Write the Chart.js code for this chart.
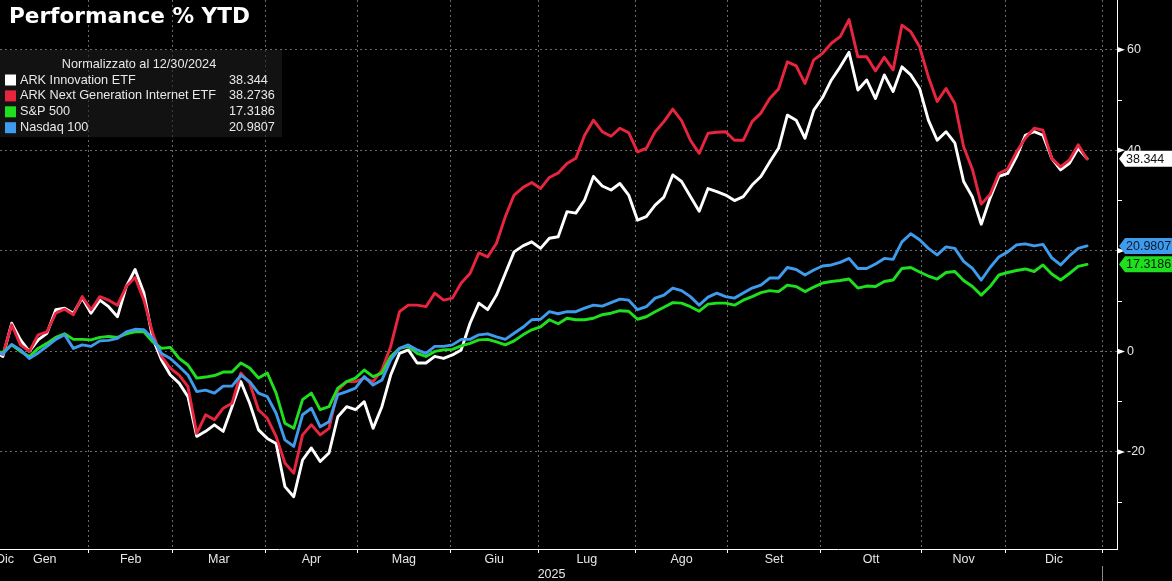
<!DOCTYPE html>
<html>
<head>
<meta charset="utf-8">
<script src="https://cdn.jsdelivr.net/npm/chart.js@4.4.0/dist/chart.umd.min.js"></script>
<style>
  html, body { margin: 0; padding: 0; background: #000; }
</style>
</head>
<body>
<canvas id="perfChart" width="1172" height="581"></canvas>
<script>
// % performance, normalized at 12/30/2024, one sample every 2 trading sessions
const arkk = [0, -1.0, 5.6, 2.3, 0.0, 2.3, 3.6, 8.3, 8.6, 7.6, 10.6, 7.6, 10.2, 8.9, 6.9, 12.9, 16.3, 11.6, 2.6, -1.7,
  -4.7, -6.3, -9.0, -16.9, -15.9, -14.6, -15.9, -11.0, -6.0, -10.3, -15.6, -17.3, -18.3, -26.9, -28.9, -21.6, -19.2, -21.9, -20.2, -13.0,
  -11.0, -11.6, -10.0, -15.3, -11.0, -4.7, -0.4, 0.3, -2.3, -2.3, -1.0, -1.4, -0.7, 0.3, 5.6, 9.6, 8.3, 11.2, 15.5, 19.8,
  21.0, 21.8, 20.5, 22.5, 22.8, 27.8, 27.5, 30.1, 34.8, 32.9, 32.1, 33.4, 31.1, 26.1, 26.8, 29.1, 30.7, 35.1, 33.8, 30.8,
  27.9, 32.4, 31.8, 31.1, 30.0, 30.8, 33.1, 34.8, 37.7, 40.4, 47.0, 46.0, 42.4, 48.0, 50.5, 54.0, 56.6, 59.5, 52.0, 54.0,
  50.3, 55.0, 51.7, 56.6, 55.0, 52.3, 46.0, 42.0, 43.7, 41.5, 33.8, 30.7, 25.3, 30.5, 34.8, 35.4, 38.7, 43.0, 43.7, 43.0,
  38.4, 36.1, 37.4, 40.4, 38.344];
const arkw = [0, -0.6, 5.3, 1.3, 0.0, 3.3, 3.9, 7.6, 8.4, 7.3, 10.9, 8.3, 10.9, 10.2, 9.2, 12.9, 14.7, 10.2, 3.6, -1.0,
  -3.3, -4.7, -7.0, -16.3, -12.6, -13.6, -11.3, -10.3, -4.3, -6.3, -11.6, -13.3, -16.9, -22.2, -24.2, -16.6, -14.6, -16.6, -15.3, -7.7,
  -6.0, -6.0, -5.3, -6.0, -3.7, 1.0, 7.9, 9.2, 9.2, 8.9, 11.6, 10.2, 10.6, 13.6, 15.5, 19.6, 18.8, 21.5, 26.8, 31.1,
  32.6, 33.6, 32.4, 34.6, 35.5, 37.4, 38.4, 43.0, 46.0, 43.7, 42.8, 44.4, 43.5, 39.7, 40.4, 43.7, 45.7, 48.2, 45.9, 42.0,
  39.4, 43.4, 43.6, 43.7, 42.0, 42.0, 45.7, 47.4, 50.3, 52.2, 57.6, 56.8, 53.3, 58.0, 59.3, 61.3, 62.6, 66.0, 58.6, 58.6,
  55.8, 58.5, 56.0, 64.9, 63.6, 60.6, 54.6, 49.7, 52.3, 49.3, 40.7, 36.2, 29.3, 31.2, 35.4, 36.3, 39.7, 42.4, 44.4, 44.0,
  38.4, 36.7, 38.1, 41.1, 38.2736];
const spx = [0, -0.2, 1.3, 0.0, -1.0, 0.6, 1.6, 2.8, 3.5, 2.4, 2.4, 2.3, 2.8, 3.0, 2.8, 3.5, 3.9, 3.9, 1.9, 0.6,
  0.8, -1.4, -2.7, -5.3, -5.1, -4.8, -4.1, -4.1, -2.3, -3.3, -5.3, -4.3, -8.3, -14.3, -15.3, -9.6, -8.3, -11.6, -11.0, -7.3,
  -6.0, -5.3, -3.7, -5.0, -4.3, -1.0, 0.6, 1.0, -0.4, -1.0, 0.0, 0.3, 0.4, 1.1, 1.6, 2.3, 2.4, 1.9, 1.3, 2.1,
  3.3, 4.3, 4.9, 6.3, 5.5, 6.6, 6.3, 6.3, 6.6, 7.3, 7.6, 8.1, 8.0, 6.4, 6.9, 7.9, 8.8, 9.7, 9.6, 8.9,
  8.0, 9.4, 9.6, 9.6, 9.2, 10.2, 10.9, 11.7, 12.1, 11.9, 13.2, 12.9, 11.9, 12.8, 13.6, 13.9, 14.1, 14.4, 12.6, 13.0,
  12.9, 13.9, 14.2, 16.5, 16.7, 15.8, 15.0, 14.4, 15.7, 15.9, 14.1, 12.9, 11.2, 12.9, 15.2, 15.7, 16.1, 16.4, 15.9, 17.2,
  15.4, 14.2, 15.5, 16.9, 17.3186];
const ndx = [0, -0.5, 1.4, 0.3, -1.4, -0.3, 1.0, 2.4, 3.3, 0.6, 1.3, 1.0, 2.1, 2.2, 2.6, 3.9, 4.4, 4.3, 2.6, -0.4,
  -1.4, -3.0, -4.7, -8.0, -7.7, -8.3, -6.9, -6.9, -4.7, -6.0, -8.3, -9.0, -12.3, -17.6, -18.9, -12.6, -11.3, -15.0, -14.0, -8.6,
  -8.0, -7.3, -5.0, -6.7, -5.7, -1.7, 0.6, 1.3, 0.3, -0.4, 1.0, 1.0, 1.3, 2.4, 2.4, 3.3, 3.5, 2.9, 2.4, 3.6,
  4.8, 6.3, 6.4, 7.9, 7.5, 7.9, 7.9, 8.6, 9.2, 9.0, 9.7, 10.4, 10.2, 8.3, 8.9, 10.6, 11.2, 12.6, 12.1, 10.9,
  9.2, 10.8, 11.6, 10.9, 10.6, 11.6, 12.6, 13.2, 14.6, 14.6, 16.7, 16.3, 15.2, 16.2, 17.0, 17.2, 17.7, 18.5, 16.5, 16.5,
  17.4, 18.5, 18.3, 21.8, 23.4, 22.2, 20.5, 19.2, 20.8, 20.5, 17.9, 16.5, 14.2, 16.7, 18.8, 19.8, 21.2, 21.4, 21.0, 21.3,
  18.6, 17.2, 19.0, 20.5, 20.9807];

// x = trading session index from 12/30/2024
const days = arkk.map((_, i) => i * 2);

const seriesNames = ['ARK Innovation ETF', 'ARK Next Generation Internet ETF', 'S&P 500', 'Nasdaq 100'];
const seriesColors = ['#ffffff', '#e8253f', '#1fe01f', '#3f9bec'];
const tagText = ['#111111', '#111111', '#0a1a0a', '#0a1830'];

// month boundaries / month label centres in trading sessions
const monthBreaks = [21.5, 40.5, 61.5, 82.5, 103.5, 123.5, 145.5, 166.5, 187.5, 210.5, 229.5, 251.5];
const monthLabels = ['Dic', 'Gen', 'Feb', 'Mar', 'Apr', 'Mag', 'Giu', 'Lug', 'Ago', 'Set', 'Ott', 'Nov', 'Dic'];
const monthMid = [2.5, 11.5, 31, 51, 72, 93, 113.5, 134.5, 156, 177, 199, 220, 240.5];
const yearLabel = '2025';
const yearMid = 126.5;
const yearBreak = 251.5;
const yTicks = [-30, -20, -10, 0, 10, 20, 30, 40, 50, 60];

const gridColor = 'rgba(255,255,255,0.42)';
const FONT = '"Liberation Sans", Arial, sans-serif';

const decor = {
    id: 'decor',
    afterDraw(chart) {
        const {ctx, chartArea: a, scales: {x, y}} = chart;
        ctx.save();

        // markers on the value axis
        ctx.fillStyle = '#ffffff';
        yTicks.filter(v => v % 20 === 0).forEach(v => {
            const py = y.getPixelForValue(v);
            ctx.beginPath();
            ctx.moveTo(a.right, py - 3);
            ctx.lineTo(a.right + 8, py);
            ctx.lineTo(a.right, py + 3);
            ctx.closePath();
            ctx.fill();
        });

        // month labels + year
        ctx.font = '12.5px ' + FONT;
        ctx.fillStyle = '#e6e6e6';
        ctx.textAlign = 'center';
        ctx.textBaseline = 'middle';
        monthLabels.forEach((m, i) => ctx.fillText(m, x.getPixelForValue(monthMid[i]), a.bottom + 11));
        ctx.fillText(yearLabel, x.getPixelForValue(yearMid), a.bottom + 26);
        ctx.strokeStyle = '#8a8a8a';
        ctx.lineWidth = 1;
        const yb = Math.round(x.getPixelForValue(yearBreak)) + 0.5;
        ctx.beginPath();
        ctx.moveTo(yb, a.bottom + 17);
        ctx.lineTo(yb, chart.height);
        ctx.stroke();

        // title
        ctx.textAlign = 'left';
        ctx.textBaseline = 'alphabetic';
        ctx.fillStyle = '#ffffff';
        ctx.font = 'bold 21.6px "DejaVu Sans", sans-serif';
        ctx.fillText('Performance % YTD', 9, 23);

        // legend box
        ctx.fillStyle = 'rgba(30,30,30,0.6)';
        ctx.fillRect(0, 50, 282, 87);
        ctx.font = '12.7px ' + FONT;
        ctx.fillStyle = '#e8e8e8';
        ctx.textBaseline = 'middle';
        ctx.textAlign = 'center';
        ctx.fillText('Normalizzato al 12/30/2024', 139, 64);
        ctx.textAlign = 'left';
        const lastVals = [arkk, arkw, spx, ndx].map(s => s[s.length - 1]);
        seriesNames.forEach((n, i) => {
            const ry = 80 + i * 15.9;
            ctx.fillStyle = seriesColors[i];
            ctx.fillRect(5, ry - 5.5, 11, 11);
            ctx.fillStyle = '#e8e8e8';
            ctx.fillText(n, 20, ry);
            ctx.fillText(String(lastVals[i]), 229, ry);
        });

        // last value tags (ARKW tag hidden under ARKK)
        ctx.font = '12.5px ' + FONT;
        [0, 3, 2].forEach(i => {
            const py = y.getPixelForValue(lastVals[i]);
            ctx.fillStyle = seriesColors[i];
            ctx.beginPath();
            ctx.moveTo(a.right + 2, py);
            ctx.lineTo(a.right + 8, py - 8);
            ctx.lineTo(chart.width, py - 8);
            ctx.lineTo(chart.width, py + 8);
            ctx.lineTo(a.right + 8, py + 8);
            ctx.closePath();
            ctx.fill();
            ctx.fillStyle = tagText[i];
            ctx.fillText(String(lastVals[i]), a.right + 9, py + 0.5);
        });
        ctx.restore();
    }
};

const seriesData = [arkk, arkw, spx, ndx];

new Chart(document.getElementById('perfChart').getContext('2d'), {
    type: 'line',
    data: {
        datasets: seriesData.map((vals, idx) => ({
            label: seriesNames[idx],
            data: vals.map((v, i) => ({x: days[i], y: v})),
            borderColor: seriesColors[idx],
            borderWidth: 2.9,
            borderJoinStyle: 'round',
            borderCapStyle: 'round',
            pointRadius: 0,
            tension: 0,
            fill: false,
            order: 4 - idx
        }))
    },
    options: {
        responsive: false,
        animation: false,
        devicePixelRatio: 1,
        layout: {padding: 0},
        plugins: {
            legend: {display: false},
            tooltip: {enabled: false}
        },
        scales: {
            x: {
                type: 'linear',
                position: 'bottom',
                min: 1.35,
                max: 254.8,
                afterBuildTicks: s => { s.ticks = monthBreaks.map(v => ({value: v})); },
                afterFit: s => { s.height = 32; s.paddingLeft = 0; s.paddingRight = 0; },
                ticks: {display: false},
                grid: {
                    color: gridColor,
                    lineWidth: 1,
                    drawTicks: true,
                    tickLength: 4,
                    tickColor: '#ffffff',
                    tickBorderDash: []
                },
                border: {display: true, color: '#ffffff', width: 1, dash: [2, 3]}
            },
            y: {
                type: 'linear',
                position: 'right',
                min: -39.3,
                max: 69.9,
                afterBuildTicks: s => { s.ticks = yTicks.map(v => ({value: v})); },
                afterFit: s => { s.width = 55; s.paddingTop = 0; s.paddingBottom = 0; },
                ticks: {
                    color: '#e6e6e6',
                    font: {family: FONT, size: 12.5},
                    padding: 5,
                    callback: v => (v % 20 === 0 ? String(v) : '')
                },
                grid: {
                    color: c => (c.tick && c.tick.value % 20 === 0 ? gridColor : 'rgba(0,0,0,0)'),
                    lineWidth: 1,
                    drawTicks: true,
                    tickLength: 5,
                    tickColor: '#ffffff',
                    tickBorderDash: []
                },
                border: {display: true, color: '#ffffff', width: 1, dash: [2, 3]}
            }
        }
    },
    plugins: [decor]
});
</script>
</body>
</html>
